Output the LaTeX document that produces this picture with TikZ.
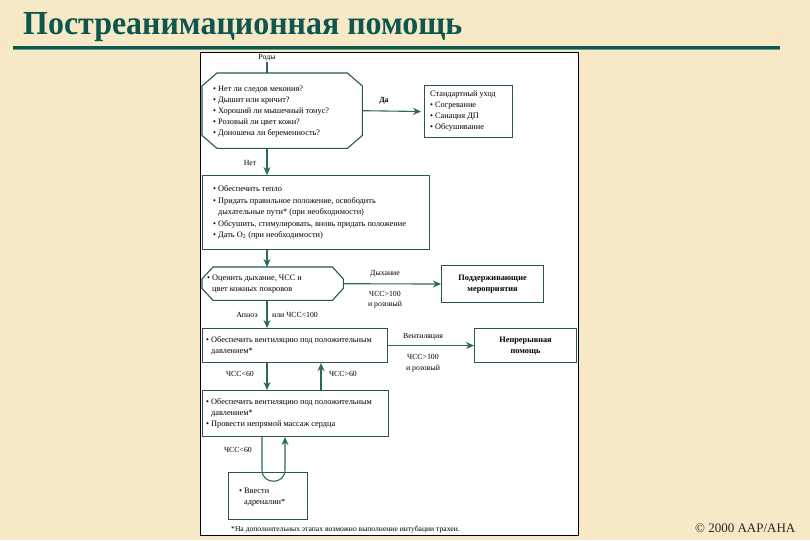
\documentclass[tikz,border=0pt]{standalone}
\usepackage{fontspec}
\setmainfont{Liberation Serif}
\usetikzlibrary{arrows.meta,calc}
\definecolor{bgc}{HTML}{F8E9C6}
\definecolor{ttl}{HTML}{0E5650}
\definecolor{grn}{HTML}{2B6A53}
\definecolor{bord}{HTML}{25594B}
\newcommand{\ind}{\hphantom{•\ }}
\begin{document}
\begin{tikzpicture}[x=1pt,y=-1pt,
  boxline/.style={draw=bord, line width=1.1pt, fill=white},
  rbox/.style={boxline, rectangle, anchor=north west, inner sep=0pt},
  frame/.style={rectangle, anchor=north west, inner sep=0pt},
  txt/.style={font=\fontsize{8.3}{11}\selectfont, align=left, inner sep=0pt, anchor=west},
  lbl/.style={font=\fontsize{7.8}{9.5}\selectfont, inner sep=0pt},
  ln/.style={draw=grn, line width=1.1pt},
  arr/.style={draw=grn, line width=1.1pt, -{Stealth[length=8pt,width=7pt]}}]
\useasboundingbox[fill=bgc] (0,0) rectangle (810,540);
% title
\node[anchor=base west, inner sep=0pt, text=ttl] (title) at (23,35)
  {\resizebox{439pt}{22pt}{\bfseries Постреанимационная помощь}};
\draw[ttl!60, line width=1pt] (13,50) -- (780,50);
\draw[ttl, line width=3pt] (13,47.5) -- (780,47.5);
% panel
\node[frame, draw=black, line width=0.9pt, fill=white, minimum width=378, minimum height=483] (panel) at (200,52) {};
\coordinate (sp) at (267,0);
\coordinate (upx) at (321,0);
% box 1 octagon
\node[frame, minimum width=160, minimum height=75] (b1) at (202,73) {};
\draw[boxline] ($(b1.north west)+(15,0)$) -- ($(b1.north east)+(-15,0)$) -- ($(b1.north east)+(0,13)$)
  -- ($(b1.south east)+(0,-13)$) -- ($(b1.south east)+(-15,0)$) -- ($(b1.south west)+(15,0)$)
  -- ($(b1.south west)+(0,-13)$) -- ($(b1.north west)+(0,13)$) -- cycle;
\node[txt] (t1) at ($(b1.west)+(11,1)$) {• Нет ли следов мекония?\\• Дышит или кричит?\\• Хороший ли мышечный тонус?\\• Розовый ли цвет кожи?\\• Доношена ли беременность?};
% standard care
\node[rbox, minimum width=88, minimum height=52] (std) at (424,85) {};
\node[txt] (tstd) at ($(std.west)+(6,0)$) {Стандартный уход\\• Согревание\\• Санация ДП\\• Обсушивание};
% box 2
\node[rbox, minimum width=227, minimum height=74] (b2) at (202,175) {};
\node[txt, font=\fontsize{8.3}{11.6}\selectfont] (t2) at ($(b2.west)+(11,0)$) {• Обеспечить тепло\\• Придать правильное положение, освободить\\\ind дыхательные пути* (при необходимости)\\• Обсушить, стимулировать, вновь придать положение\\• Дать O\textsubscript{2} (при необходимости)};
% box 3 hexagon
\node[frame, minimum width=141, minimum height=33] (b3) at (202,267) {};
\draw[boxline] ($(b3.north west)+(11,0)$) -- ($(b3.north east)+(-11,0)$) -- ($(b3.north east)+(0,12)$)
  -- ($(b3.south east)+(0,-12)$) -- ($(b3.south east)+(-11,0)$) -- ($(b3.south west)+(11,0)$)
  -- ($(b3.south west)+(0,-12)$) -- ($(b3.north west)+(0,12)$) -- cycle;
\node[txt] (t3) at ($(b3.west)+(5,0)$) {• Оценить дыхание, ЧСС и\\\ind цвет кожных покровов};
% supportive care
\node[rbox, minimum width=102, minimum height=37] (sup) at (441,265) {};
\node[txt, anchor=center, align=center, font=\fontsize{8.3}{11}\selectfont\bfseries] (tsup) at (sup.center) {Поддерживающие\\мероприятия};
% box 4
\node[rbox, minimum width=185, minimum height=34] (b4) at (202,328) {};
\node[txt] (t4) at ($(b4.west)+(4,0)$) {• Обеспечить вентиляцию под положительным\\\ind давлением*};
% ongoing care
\node[rbox, minimum width=102, minimum height=34] (cont) at (474,328) {};
\node[txt, anchor=center, align=center, font=\fontsize{8.3}{11}\selectfont\bfseries] (tcont) at (cont.center) {Непрерывная\\помощь};
% box 5
\node[rbox, minimum width=186, minimum height=46] (b5) at (202,390) {};
\node[txt] (t5) at ($(b5.west)+(4,0)$) {• Обеспечить вентиляцию под положительным\\\ind давлением*\\• Провести непрямой массаж сердца};
% box 6
\node[rbox, minimum width=79, minimum height=47] (b6) at (228,472) {};
\node[txt] (t6) at ($(b6.west)+(11,1)$) {• Ввести\\\ind адреналин*};
% connectors
\node[lbl] (lRody) at (267,58) {Роды};
\draw[ln] (lRody.south) -- (lRody.south |- b1.north);
\draw[arr, shorten >=3pt] (b1.east) -- (std.west);
\node[lbl, font=\fontsize{7.8}{9.5}\selectfont\bfseries] (lDa) at (384,101) {Да};
\draw[arr] (b1.south -| sp) -- (b2.north -| sp);
\node[lbl] (lNet) at (250,163) {Нет};
\draw[arr] (b2.south -| sp) -- (b3.north -| sp);
\draw[arr] (b3.east) -- (sup.west);
\node[lbl] (lDyh) at (385,274) {Дыхание};
\node[lbl] (lC1a) at (385,294) {ЧСС>100};
\node[lbl] (lC1b) at (385,305) {и розовый};
\draw[arr] (b3.south -| sp) -- (b4.north -| sp);
\node[lbl] (lApn) at (247,315) {Апноэ};
\node[lbl] (lIli) at (295,315) {или ЧСС<100};
\draw[arr] (b4.east) -- (cont.west);
\node[lbl] (lVent) at (423,337) {Вентиляция};
\node[lbl] (lC2a) at (423,357) {ЧСС>100};
\node[lbl] (lC2b) at (423,369) {и розовый};
\draw[arr] (b4.south -| sp) -- (b5.north -| sp);
\draw[arr] (b5.north -| upx) -- (b4.south -| upx);
\node[lbl] (lC60a) at (240,374) {ЧСС<60};
\node[lbl] (lC60b) at (343,374) {ЧСС>60};
\coordinate (ua) at (262,470);
\coordinate (ub) at (285,470);
\draw[arr] (b5.south -| ua) -- (ua) .. controls (262,485) and (285,485) .. (ub) -- (b5.south -| ub);
\node[lbl] (lC60c) at (238,450) {ЧСС<60};
\node[lbl, anchor=base west, font=\fontsize{7.6}{9}\selectfont] (foot) at (231,531) {*На дополнительных этапах возможно выполнение интубации трахеи.};
\node[anchor=base west, inner sep=0pt, font=\fontsize{13}{15}\selectfont, text=black!85] (copy) at (695,532) {© 2000 AAP/AHA};
\end{tikzpicture}
\end{document}
